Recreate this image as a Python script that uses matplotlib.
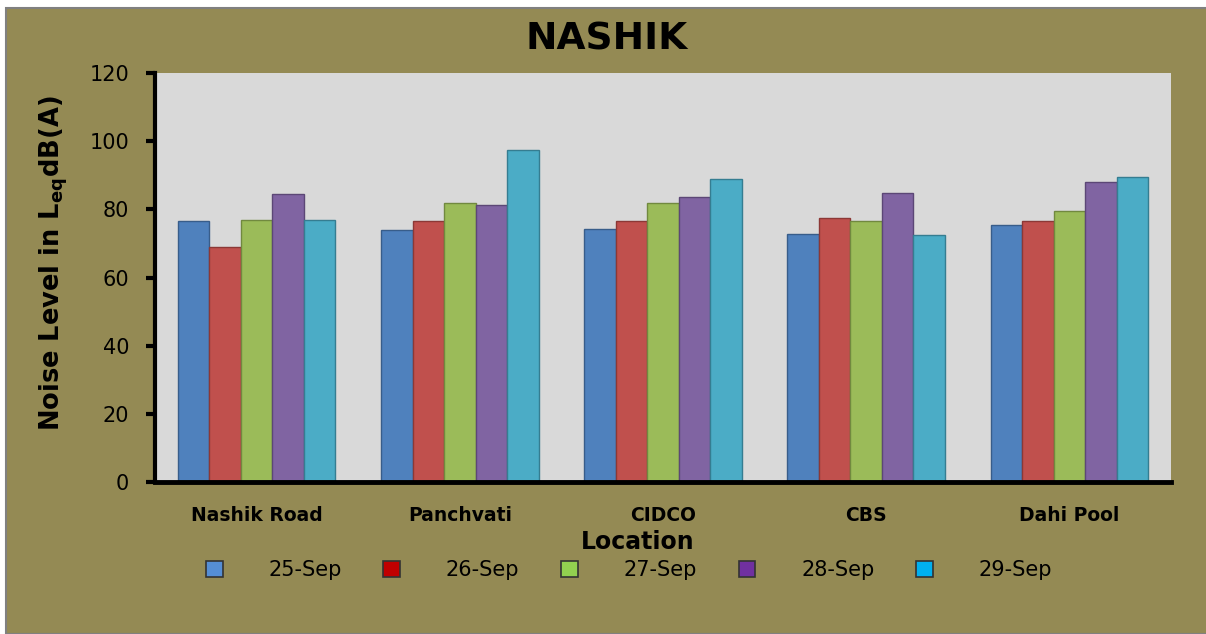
import matplotlib
matplotlib.use('Agg')
import matplotlib.pyplot as plt
from matplotlib.patches import Patch, Rectangle
import numpy as np

# Noise level data (Leq dB(A))
locations = ['Nashik Road', 'Panchvati', 'CIDCO', 'CBS', 'Dahi Pool']
dates = ['25-Sep', '26-Sep', '27-Sep', '28-Sep', '29-Sep']
sep25 = [76.5, 73.9, 74.2, 72.9, 75.5]
sep26 = [68.9, 76.6, 76.5, 77.5, 76.5]
sep27 = [76.9, 81.9, 81.8, 76.5, 79.5]
sep28 = [84.4, 81.4, 83.7, 84.8, 88.1]
sep29 = [76.9, 97.3, 89.0, 72.5, 89.6]
series = [sep25, sep26, sep27, sep28, sep29]

bar_colors = ['#4F81BD', '#C0504D', '#9BBB59', '#8064A2', '#4BACC6']
edge_colors = ['#385D8A', '#8C3836', '#71893F', '#5C4776', '#357D91']
legend_colors = ['#558ED5', '#C00000', '#92D050', '#7030A0', '#00B0F0']
olive = '#948A54'

fig = plt.figure(figsize=(12.06, 6.34), dpi=100, facecolor='white')
# olive chart area with thin grey border (white margin at top/left)
fig.patches.append(Rectangle((6 / 1206, 0), 1.0, (634 - 8) / 634,
                             transform=fig.transFigure, facecolor=olive,
                             edgecolor='#808080', linewidth=1.5, zorder=-10))

ax = fig.add_axes([155 / 1206, (634 - 482) / 634, 1016 / 1206, 409 / 634])
ax.set_facecolor('#D9D9D9')

x = np.arange(len(locations))
w = 0.155
for i, vals in enumerate(series):
    ax.bar(x + (i - 2) * w, vals, w, color=bar_colors[i],
           edgecolor=edge_colors[i], linewidth=1, zorder=3)

ax.set_xlim(-0.5, len(locations) - 0.5)
ax.set_ylim(0, 120)
ax.set_yticks(range(0, 121, 20))
ax.yaxis.grid(True, color='#A0A0A0', linewidth=1.3, zorder=1)
ax.set_axisbelow(True)
for t in ax.yaxis.get_major_ticks():
    if t.get_loc() in (0, 120):
        t.gridline.set_visible(False)

for s in ['top', 'right']:
    ax.spines[s].set_visible(False)
ax.spines['left'].set_linewidth(3)
ax.spines['bottom'].set_linewidth(3.5)
ax.spines['left'].set_zorder(5)
ax.spines['bottom'].set_zorder(5)

ax.set_xticks(x)
ax.set_xticklabels(locations, fontsize=13.5, fontweight='bold', family='DejaVu Sans')
ax.tick_params(axis='x', length=0, pad=17)
ax.tick_params(axis='y', length=6.5, width=3, labelsize=15, pad=12, colors='black')

ax.set_xlabel('Location', fontsize=17, fontweight='bold')
ax.xaxis.set_label_coords((638 - 155) / 1016, (482 - 542) / 409)
ax.xaxis.label.set_va('center')

ax.set_ylabel(r'Noise Level in L$_{\mathbf{eq}}$dB(A)', fontsize=18.5, fontweight='bold')
ax.yaxis.set_label_coords((54 - 155) / 1016, (482 - 263) / 409)
ax.yaxis.label.set_va('center')

fig.text(607 / 1206, 1 - 40 / 634, 'NASHIK', fontsize=27, fontweight='bold',
         ha='center', va='center')

handles = [Patch(facecolor=c, edgecolor='#333333', linewidth=1.2) for c in legend_colors]
fig.legend(handles, dates, loc='center', bbox_to_anchor=(629 / 1206, 1 - 570 / 634),
           ncol=5, frameon=False, fontsize=15, handlelength=0.8, handleheight=0.8,
           handletextpad=2.2, columnspacing=2.0)

fig.savefig('out.png', dpi=100, facecolor=fig.get_facecolor())
